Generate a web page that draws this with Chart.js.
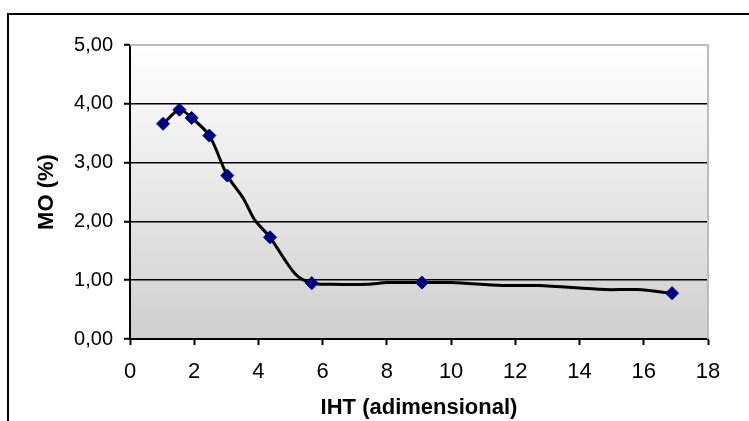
<!DOCTYPE html>
<html>
<head>
<meta charset="utf-8">
<script src="https://cdn.jsdelivr.net/npm/chart.js@4/dist/chart.umd.min.js"></script>
<style>
  html, body { margin: 0; padding: 0; background: #ffffff; }
  #wrap { position: relative; width: 749px; height: 421px; }
</style>
</head>
<body>
<div id="wrap"><canvas id="c"></canvas></div>
<script>
// Measured points (markers)
const ihtPoints = [1.03, 1.54, 1.92, 2.47, 3.03, 4.36, 5.66, 9.09, 16.88];
const moPoints  = [3.66, 3.90, 3.76, 3.46, 2.78, 1.73, 0.95, 0.96, 0.78];

// Smoothed curve vertices
const ihtCurve = [1.03, 1.54, 1.92, 2.47, 3.03, 3.53, 3.89, 4.36, 5.14, 5.66, 6.3, 7.4, 8.0, 9.09, 10.0, 11.6, 12.7, 14.8, 15.8, 16.88];
const moCurve  = [3.66, 3.90, 3.76, 3.46, 2.78, 2.39, 2.02, 1.73, 1.11, 0.95, 0.93, 0.93, 0.96, 0.96, 0.96, 0.91, 0.91, 0.84, 0.84, 0.78];

const xTicks = [0, 2, 4, 6, 8, 10, 12, 14, 16, 18];
const yTickLabels = ['0,00', '1,00', '2,00', '3,00', '4,00', '5,00'];

const xTitle = 'IHT (adimensional)';
const yTitle = 'MO (%)';

const FONT = '"Liberation Sans", Arial, sans-serif';

const bgPlugin = {
  id: 'bg',
  beforeDraw(chart) {
    const { ctx, chartArea: a } = chart;
    ctx.save();
    const g = ctx.createLinearGradient(0, a.top, 0, a.bottom);
    g.addColorStop(0, '#ffffff');
    g.addColorStop(1, '#cfcfcf');
    ctx.fillStyle = g;
    ctx.fillRect(a.left, a.top, a.right - a.left, a.bottom - a.top);
    ctx.restore();
  },
  afterDraw(chart) {
    const { ctx, chartArea: a } = chart;
    ctx.save();
    ctx.strokeStyle = '#bdbdbd';
    ctx.lineWidth = 2;
    ctx.beginPath();
    ctx.moveTo(a.left, a.top);
    ctx.lineTo(a.right, a.top);
    ctx.lineTo(a.right, a.bottom);
    ctx.stroke();
    ctx.strokeStyle = '#000000';
    ctx.lineWidth = 2;
    ctx.strokeRect(8, 14, 800, 500);
    ctx.restore();
  }
};

new Chart(document.getElementById('c'), {
  type: 'scatter',
  data: {
    datasets: [
      {
        label: 'curve',
        data: ihtCurve.map((x, i) => ({ x, y: moCurve[i] })),
        showLine: true,
        borderColor: '#000000',
        borderWidth: 3,
        pointRadius: 0,
        pointHoverRadius: 0,
        tension: 0.3,
        fill: false,
        order: 2
      },
      {
        label: 'MO',
        data: ihtPoints.map((x, i) => ({ x, y: moPoints[i] })),
        showLine: false,
        pointStyle: 'rectRot',
        pointRadius: 6.5,
        pointBackgroundColor: '#000080',
        pointBorderColor: '#000080',
        pointBorderWidth: 1,
        order: 1
      }
    ]
  },
  options: {
    responsive: true,
    maintainAspectRatio: false,
    animation: false,
    layout: { padding: { left: 0, top: 45, right: 41, bottom: 0 } },
    plugins: {
      legend: { display: false },
      tooltip: { enabled: false }
    },
    scales: {
      x: {
        type: 'linear',
        min: 0, max: 18,
        afterBuildTicks(scale) { scale.ticks = xTicks.map(v => ({ value: v })); },
        afterFit(scale) { scale.height = 82; },
        border: { display: true, color: '#000000', width: 2 },
        grid: { drawOnChartArea: false, drawTicks: true, tickLength: 6, tickColor: '#000000', tickWidth: 2 },
        ticks: { color: '#000000', font: { family: FONT, size: 22 }, padding: 14, maxRotation: 0, autoSkip: false },
        title: { display: true, text: xTitle, color: '#000000', font: { family: FONT, size: 22, weight: 'bold' }, padding: { top: 0, bottom: 0 } }
      },
      y: {
        type: 'linear',
        min: 0, max: 5,
        afterBuildTicks(scale) { scale.ticks = yTickLabels.map((t, i) => ({ value: i })); },
        afterFit(scale) { scale.width = 130; },
        border: { display: true, color: '#000000', width: 2 },
        grid: {
          drawOnChartArea: true,
          color: (c) => (c.tick && (c.tick.value === 0 || c.tick.value === 5)) ? 'rgba(0,0,0,0)' : '#000000',
          lineWidth: 1.5,
          drawTicks: true, tickLength: 6, tickColor: '#000000', tickWidth: 2
        },
        ticks: {
          color: '#000000', font: { family: FONT, size: 20 }, padding: 11, autoSkip: false,
          callback: (v, i) => yTickLabels[i]
        },
        title: { display: true, text: yTitle, color: '#000000', font: { family: FONT, size: 22, weight: 'bold' }, padding: { top: 34, bottom: 0 } }
      }
    }
  },
  plugins: [bgPlugin]
});
</script>
</body>
</html>
